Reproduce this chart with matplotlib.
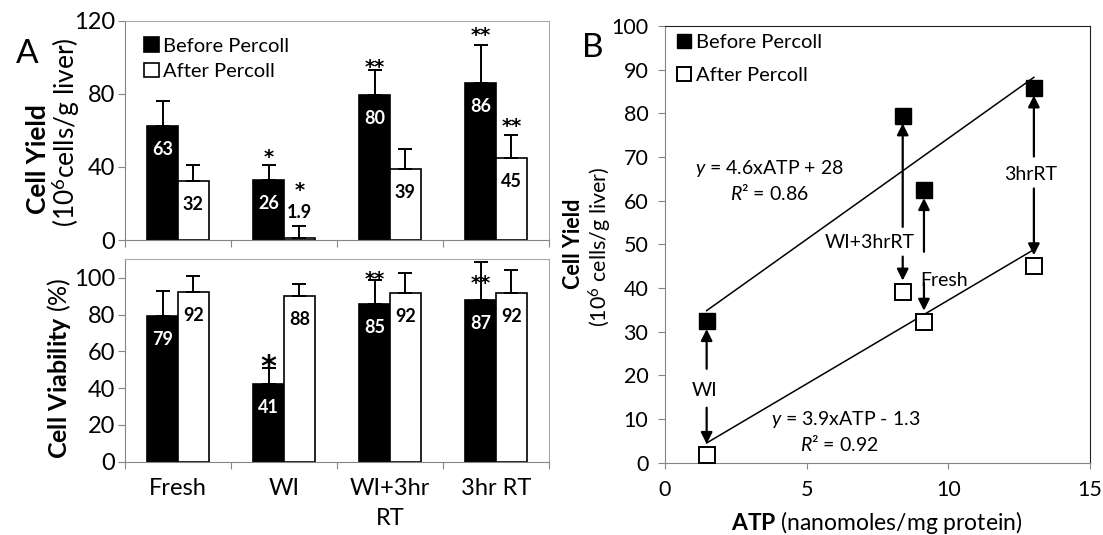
import numpy as np
import matplotlib
matplotlib.use('Agg')
import matplotlib.pyplot as plt

plt.rcParams['font.family'] = ['Lato', 'DejaVu Sans']
plt.rcParams['mathtext.fontset'] = 'custom'
plt.rcParams['mathtext.rm'] = 'Lato'
plt.rcParams['mathtext.it'] = 'Lato:italic'
plt.rcParams['mathtext.bf'] = 'Lato:bold'

# ---- data ----
conditions = ['Fresh', 'WI', 'WI+3hr\nRT', '3hr RT']

yield_before = [62.5, 32.7, 79.5, 86.1]
yield_before_err = [13.7, 8.2, 13.5, 20.6]
yield_after = [32.1, 1.3, 38.9, 45.0]
yield_after_err = [8.8, 6.4, 10.9, 12.3]
yield_before_lbl = ['63', '26', '80', '86']
yield_after_lbl = ['32', '1.9', '39', '45']

viab_before = [79.4, 42.5, 85.8, 87.7]
viab_before_err = [13.6, 8.2, 13.2, 20.7]
viab_after = [92.1, 89.9, 91.9, 91.9]
viab_after_err = [8.7, 6.6, 10.8, 12.2]
viab_before_lbl = ['79', '41', '85', '87']
viab_after_lbl = ['92', '88', '92', '92']

atp_names = ['WI', 'WI+3hrRT', 'Fresh', '3hrRT']
atp = [1.47, 8.39, 9.14, 13.02]
atp_before = [32.4, 79.5, 62.4, 85.9]
atp_after = [1.8, 39.2, 32.3, 45.0]

# significance marks: (group, series side, text, y of glyph centre, size)
stars_yield = [(1, -1, '*', 48.9, 14), (1, 1, '*', 30.6, 14),
               (2, -1, '**', 98.1, 14), (3, -1, '**', 115.5, 14),
               (3, 1, '**', 65.7, 14)]
stars_viab = [(1, -1, '*', 56.8, 22), (2, -1, '**', 102.7, 14),
              (3, -1, '**', 100.5, 14)]

# arrow labels in panel B: label x, label y, shaft start above, shaft start below
arrow_marks = [(1.40, 16.6, 21.5, 12.6),
               (7.23, 50.5, 54.0, 47.2),
               (9.85, 41.7, 48.3, 41.2),
               (12.90, 65.9, 70.1, 62.8)]

GRAY = '#858585'
LGRAY = '#a8a8a8'
BW = 0.29
OFF = 0.145


def style_bar_axes(ax, ymax, yticks):
    ax.set_xlim(-0.5, 3.5)
    ax.set_ylim(0, ymax)
    ax.set_yticks(yticks)
    ax.set_xticks(np.arange(-0.5, 4, 1.0))
    ax.set_xticklabels([])
    for s in ['left', 'bottom']:
        ax.spines[s].set_color(GRAY)
    for s in ['top', 'right']:
        ax.spines[s].set_color(LGRAY)
    ax.tick_params(axis='both', which='major', direction='out', length=5,
                   color=GRAY, labelsize=17, pad=2)


def draw_bars(ax, before, berr, after, aerr, blbl, albl, stars):
    x = np.arange(len(before))
    ekw = dict(lw=1.4, capthick=1.4, ecolor='black')
    ax.bar(x - OFF, before, BW, color='black', edgecolor='black', lw=1.2,
           yerr=[np.zeros(len(x)), berr], capsize=5, error_kw=ekw,
           label='Before Percoll')
    ax.bar(x + OFF, after, BW, color='white', edgecolor='black', lw=1.2,
           yerr=[np.zeros(len(x)), aerr], capsize=5, error_kw=ekw,
           label='After Percoll')
    for xs, vals, errs, lbls, col in [(x - OFF, before, berr, blbl, 'white'),
                                      (x + OFF, after, aerr, albl, 'black')]:
        for xi, v, e, t in zip(xs, vals, errs, lbls):
            if v > 15:
                ax.annotate(t, (xi, v), xytext=(0, -17), textcoords='offset points',
                            ha='center', va='center', color=col,
                            fontsize=13, fontweight='bold')
            else:
                ax.annotate(t, (xi, v + e), xytext=(0, 10), textcoords='offset points',
                            ha='center', va='center', color='black',
                            fontsize=13, fontweight='bold')
    for g, side, t, yc, fs in stars:
        ax.annotate(t, (g + side * OFF, yc), xytext=(0, -0.62 * fs),
                    textcoords='offset points', ha='center', va='baseline',
                    fontsize=fs, fontweight='bold', family='DejaVu Sans',
                    annotation_clip=False)


fig = plt.figure(figsize=(11.03, 5.35), dpi=100)
ax1 = fig.add_axes([0.1133, 0.5514, 0.3844, 0.4099])
ax2 = fig.add_axes([0.1133, 0.1370, 0.3844, 0.3783])
ax3 = fig.add_axes([0.6029, 0.1351, 0.3853, 0.8163])

# ---- panel A top ----
style_bar_axes(ax1, 120, [0, 40, 80, 120])
draw_bars(ax1, yield_before, yield_before_err, yield_after, yield_after_err,
          yield_before_lbl, yield_after_lbl, stars_yield)
ax1.legend(loc='upper left', bbox_to_anchor=(0.045, 0.925), frameon=False,
           fontsize=14.5, handlelength=0.75, handleheight=0.75, handletextpad=0.2,
           labelspacing=0.4, borderaxespad=0, borderpad=0)

# ---- panel A bottom ----
style_bar_axes(ax2, 110, [0, 20, 40, 60, 80, 100])
draw_bars(ax2, viab_before, viab_before_err, viab_after, viab_after_err,
          viab_before_lbl, viab_after_lbl, stars_viab)
ax2.set_xticks(np.arange(len(conditions)), minor=True)
ax2.set_xticklabels(conditions, minor=True, fontsize=17, linespacing=1.5)
ax2.tick_params(axis='x', which='minor', length=0, pad=12)

fig.text(37.7 / 1103, 1 - 159 / 535, 'Cell Yield', rotation=90, ha='center',
         va='center', fontsize=19, fontweight='bold')
fig.text(66 / 1103, 1 - 132 / 535, '(10$^6$cells/g liver)', rotation=90,
         ha='center', va='center', fontsize=19)
fig.text(59 / 1103, 1 - 368 / 535, r'$\mathbf{Cell\ Viability}$ (%)', rotation=90,
         ha='center', va='center', fontsize=18)
fig.text(27 / 1103, 1 - 54 / 535, 'A', ha='center', va='center', fontsize=24)

# ---- panel B ----
ax3.plot(atp, atp_before, 's', color='black', ms=11, mec='black',
         label='Before Percoll', zorder=4)
ax3.plot(atp, atp_after, 's', mfc='white', mec='black', ms=11, mew=1.4,
         label='After Percoll', zorder=4)
xs = np.array([min(atp), max(atp)])
for ys in [atp_before, atp_after]:
    k, b = np.polyfit(atp, ys, 1)
    ax3.plot(xs, k * xs + b, color='black', lw=1.1, zorder=3)

for i, (lx, ly, ya, yb) in enumerate(arrow_marks):
    px = atp[i]
    ax3.annotate('', xy=(px, atp_before[i] - 1.8), xytext=(px, ya),
                 arrowprops=dict(arrowstyle='-|>', color='black', lw=1.6,
                                 mutation_scale=17, shrinkA=0, shrinkB=0))
    ax3.annotate('', xy=(px, atp_after[i] + 2.5), xytext=(px, yb),
                 arrowprops=dict(arrowstyle='-|>', color='black', lw=1.6,
                                 mutation_scale=17, shrinkA=0, shrinkB=0))
    ax3.text(lx, ly, atp_names[i], ha='center', va='center', fontsize=14)

ax3.text(3.7, 67.4, '$\\mathit{y}$ = 4.6xATP + 28', ha='center', va='center', fontsize=14)
ax3.text(3.7, 61.7, '$\\mathit{R}$² = 0.86', ha='center', va='center', fontsize=14)
ax3.text(6.38, 10.0, '$\\mathit{y}$ = 3.9xATP - 1.3', ha='center', va='center', fontsize=14)
ax3.text(6.16, 4.3, '$\\mathit{R}$² = 0.92', ha='center', va='center', fontsize=14)

ax3.set_xlim(0, 15)
ax3.set_ylim(0, 100)
ax3.set_xticks([0, 5, 10, 15])
ax3.set_yticks(np.arange(0, 101, 10))
for s in ['left', 'bottom']:
    ax3.spines[s].set_color(GRAY)
for s in ['top', 'right']:
    ax3.spines[s].set_color('#222222')
ax3.tick_params(axis='y', direction='out', length=5, color=GRAY, labelsize=15.5, pad=7)
ax3.tick_params(axis='x', direction='out', length=4.5, color=GRAY, labelsize=15.5, pad=8)
ax3.legend(loc='upper left', bbox_to_anchor=(0.03, 0.982), frameon=False,
           fontsize=14.5, handlelength=0.6, handletextpad=0.3, labelspacing=0.8,
           borderaxespad=0, borderpad=0, markerscale=0.95)

fig.text(573 / 1103, 1 - 244 / 535, 'Cell Yield', rotation=90, ha='center',
         va='center', fontsize=15.5, fontweight='bold')
fig.text(600 / 1103, 1 - 247 / 535, '(10$^6$ cells/g liver)', rotation=90,
         ha='center', va='center', fontsize=15.5)
fig.text(877 / 1103, 1 - 522 / 535, r'$\mathbf{ATP}$ (nanomoles/mg protein)',
         ha='center', va='center', fontsize=16.5)
fig.text(593 / 1103, 1 - 48 / 535, 'B', ha='center', va='center', fontsize=24)

fig.savefig('out.png', dpi=100)
